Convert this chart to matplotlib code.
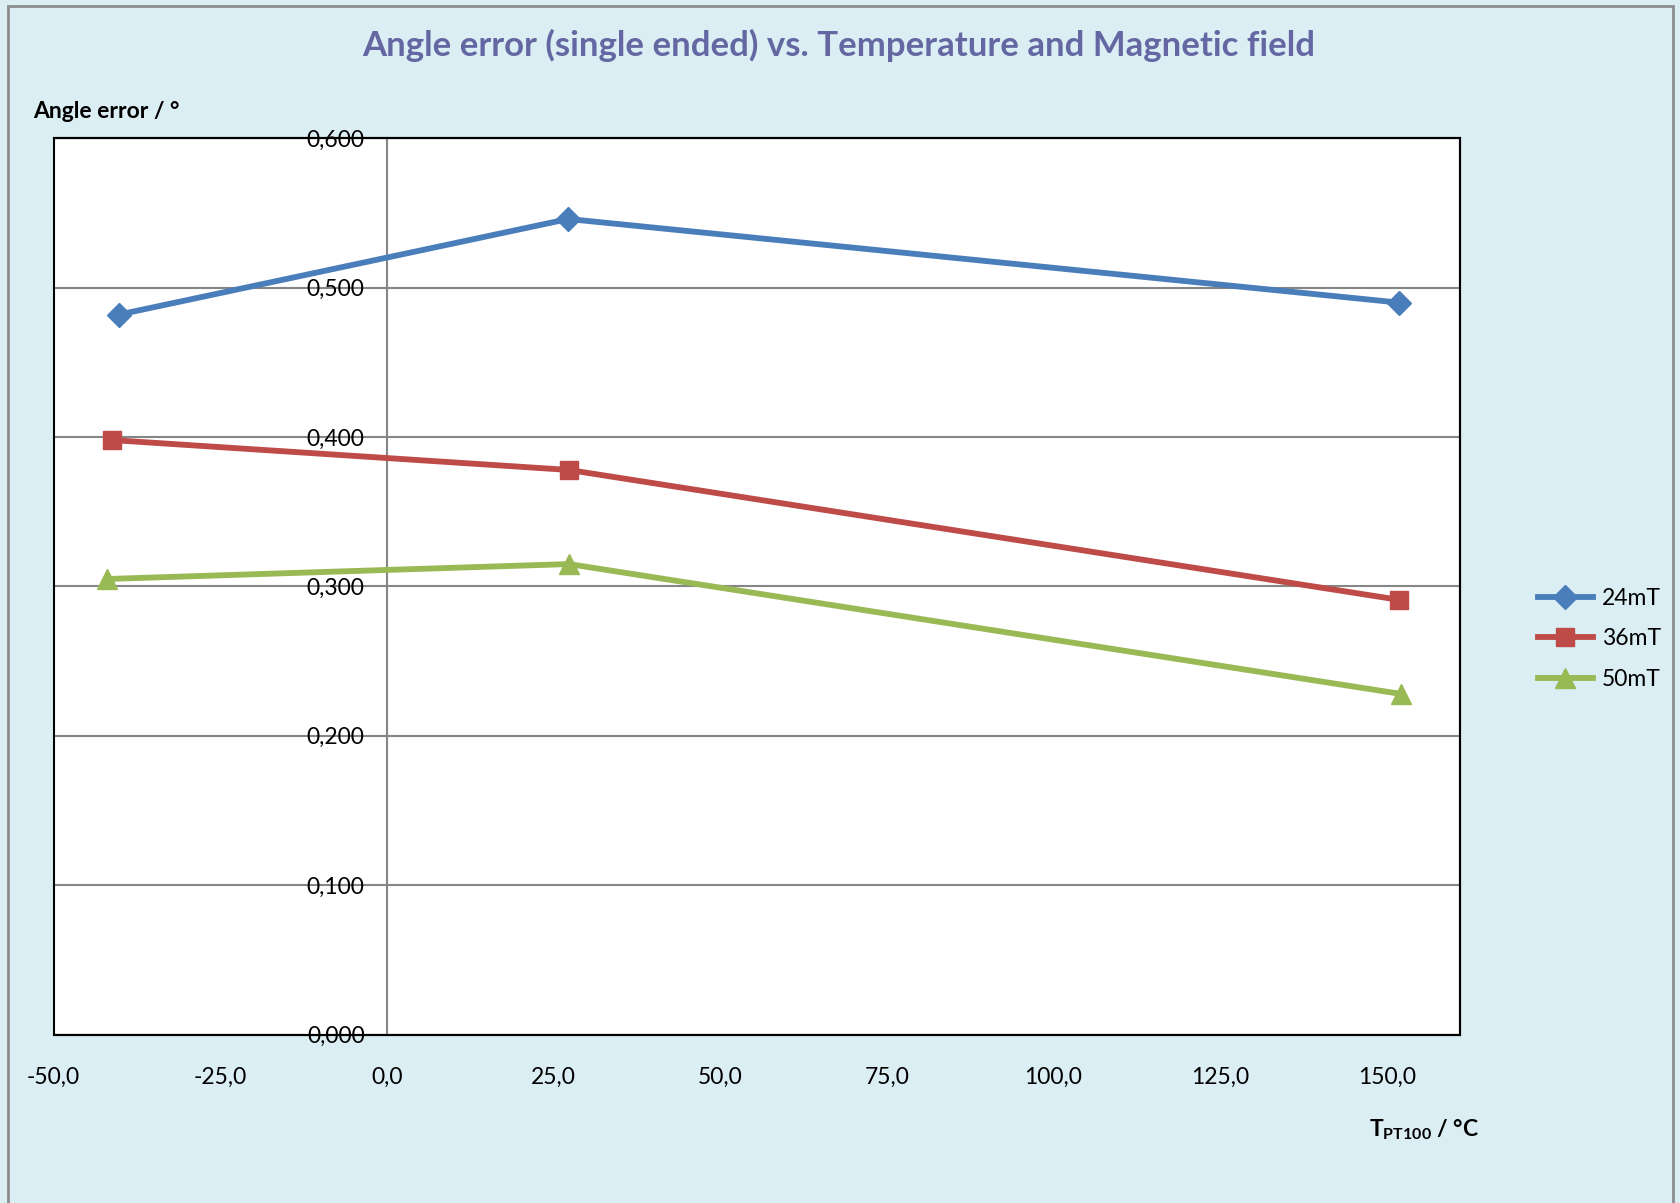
import matplotlib.pyplot as plt
from matplotlib.patches import Rectangle
from matplotlib.ticker import FuncFormatter, MultipleLocator

plt.rcParams['font.family'] = ['Lato', 'DejaVu Sans']
plt.rcParams['mathtext.fontset'] = 'custom'
plt.rcParams['mathtext.bf'] = 'Lato:bold'
plt.rcParams['mathtext.rm'] = 'Lato'

# data
series_names = ['24mT', '36mT', '50mT']
temp_24 = [-40.2, 27.2, 151.9]
err_24 = [0.482, 0.546, 0.490]
temp_36 = [-41.2, 27.3, 151.9]
err_36 = [0.398, 0.378, 0.291]
temp_50 = [-42.0, 27.3, 152.2]
err_50 = [0.305, 0.315, 0.228]

bg = '#DBEEF4'
fig = plt.figure(figsize=(16.81, 12.03), dpi=100, facecolor=bg)
fig.patches.append(Rectangle((0.005, -0.01), 0.99, 1.005, transform=fig.transFigure,
                             fill=False, edgecolor='#8C8C8C', linewidth=2))

ax = fig.add_axes([0.0319, 0.140, 0.8367, 0.745])
ax.set_facecolor('white')

ax.plot(temp_24, err_24, color='#4A7EBB', lw=4.2, marker='D', ms=12, label=series_names[0], zorder=3)
ax.plot(temp_36, err_36, color='#BE4B48', lw=4.2, marker='s', ms=13, label=series_names[1], zorder=3)
ax.plot(temp_50, err_50, color='#98B954', lw=4.2, marker='^', ms=14, label=series_names[2], zorder=3)

ax.set_xlim(-50, 161)
ax.set_ylim(0, 0.6)
ax.xaxis.set_major_locator(MultipleLocator(25))
ax.yaxis.set_major_locator(MultipleLocator(0.1))
comma = lambda fmt: FuncFormatter(lambda v, p: (fmt % v).replace('.', ','))
ax.xaxis.set_major_formatter(comma('%.1f'))
ax.yaxis.set_major_formatter(comma('%.3f'))
ax.grid(axis='y', color='#868686', lw=1.5)

# vertical axis sits at x = 0, frame stays black
for s in ['top', 'right', 'bottom']:
    ax.spines[s].set_color('black')
    ax.spines[s].set_linewidth(1.5)
ax.spines['left'].set_position(('data', 0))
ax.spines['left'].set_color('#868686')
ax.spines['left'].set_linewidth(1.5)
ax.add_patch(Rectangle((0, 0), 1, 1, transform=ax.transAxes, fill=False,
                       edgecolor='black', lw=1.5, clip_on=False, zorder=4))

ax.tick_params(axis='both', length=0, labelsize=16.5)
ax.tick_params(axis='x', pad=23)
ax.tick_params(axis='y', pad=16)

fig.text(0.499, 0.962, 'Angle error (single ended) vs. Temperature and Magnetic field',
         ha='center', va='center', fontsize=25, fontweight='bold', color='#6467A2')
fig.text(0.0196, 0.907, 'Angle error / °', ha='left', va='center', fontsize=16.5, fontweight='bold')
ax.set_xlabel(r'$\mathbf{T_{PT100}}$ / °C', fontsize=16.5, fontweight='bold')
ax.xaxis.set_label_coords(0.974, -0.092)

ax.legend(loc='center left', bbox_to_anchor=(0.908, 0.469), bbox_transform=fig.transFigure,
          frameon=False, fontsize=16.5, handlelength=2.4, labelspacing=0.85, borderpad=0,
          handletextpad=0.4)

fig.savefig('out.png', dpi=100, facecolor=bg)
